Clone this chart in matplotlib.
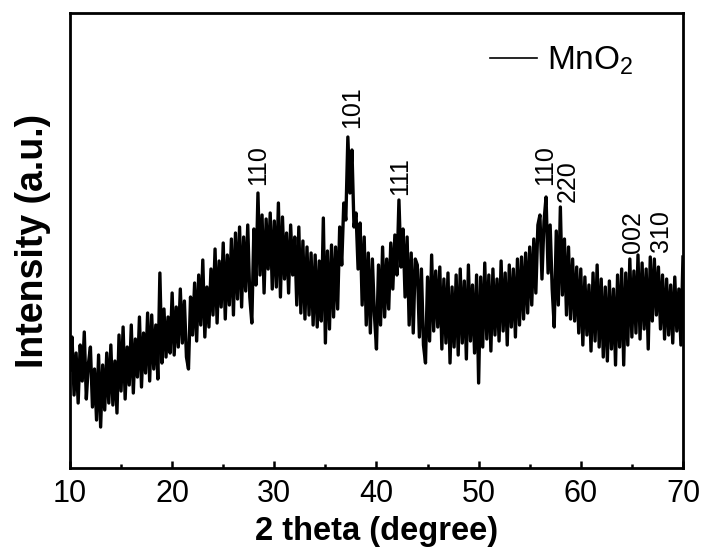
# XRD pattern of MnO2 (0.2 degree steps)

import matplotlib
matplotlib.use("Agg")
import matplotlib.pyplot as plt
import numpy as np

plt.rcParams["font.family"] = ["Liberation Sans", "DejaVu Sans"]
plt.rcParams["mathtext.fontset"] = "custom"
plt.rcParams["mathtext.rm"] = "Liberation Sans"
plt.rcParams["mathtext.it"] = "Liberation Sans:italic"

# 2 theta from 10 to 70 in 0.2 steps (301 points)
twoTheta = np.round(np.arange(10.0, 70.01, 0.2), 1)

# intensity in arbitrary units, one row = 2 degrees
intensity = [
    95, 128, 70, 112, 62, 120, 84, 133, 66, 101,      # 10
    118, 58, 96, 45, 110, 38, 100, 55, 112, 62,       # 12
    120, 60, 104, 52, 130, 74, 138, 66, 118, 80,      # 14
    140, 72, 126, 88, 148, 78, 132, 92, 152, 84,      # 16
    150, 96, 140, 86, 192, 102, 156, 108, 148, 112,   # 18
    172, 110, 158, 118, 176, 122, 164, 108, 96, 168,  # 20
    130, 182, 124, 190, 140, 205, 128, 178, 138, 196, # 22
    150, 216, 142, 204, 158, 222, 146, 210, 160, 226, # 24
    150, 232, 166, 238, 158, 228, 174, 240, 168, 142, # 26
    236, 180, 272, 190, 250, 172, 246, 196, 252, 176, # 28
    244, 178, 262, 168, 248, 186, 232, 172, 240, 190, # 30
    228, 160, 238, 152, 224, 146, 218, 150, 212, 140, # 32
    210, 138, 204, 144, 247, 122, 214, 136, 220, 148, # 34
    218, 156, 238, 200, 262, 245, 328, 272, 315, 238, # 36
    252, 196, 242, 160, 228, 140, 212, 132, 206, 150, # 38
    116, 200, 140, 218, 148, 206, 156, 222, 176, 230, # 40
    190, 265, 198, 236, 168, 228, 140, 212, 132, 206, # 42
    200, 128, 196, 120, 102, 188, 124, 210, 134, 194, # 44
    138, 198, 116, 186, 122, 192, 102, 178, 118, 190, # 46
    110, 196, 122, 184, 106, 200, 124, 180, 112, 190, # 48
    82, 188, 118, 202, 126, 190, 114, 196, 130, 186,  # 50
    124, 204, 134, 192, 120, 200, 138, 196, 128, 206, # 52
    140, 208, 146, 212, 152, 218, 160, 226, 172, 240, # 54
    250, 186, 244, 268, 192, 240, 176, 138, 234, 160, # 56
    258, 170, 226, 150, 218, 146, 206, 144, 198, 132, # 58
    196, 120, 188, 130, 180, 114, 192, 124, 200, 118, # 60
    186, 108, 178, 104, 184, 116, 176, 100, 190, 118, # 62
    196, 100, 192, 120, 206, 128, 194, 132, 210, 126, # 64
    202, 136, 196, 116, 208, 144, 206, 150, 198, 136, # 66
    190, 126, 186, 130, 180, 122, 188, 134, 176, 120, # 68
    208,                                              # 70
]

# reflection labels
peakNames = ["110", "101", "111", "110", "220", "002", "310"]
peakX = [28.4, 37.6, 42.3, 56.5, 58.7, 65.1, 67.9]
peakY = [280, 337, 270, 280, 263, 212, 213]

fig = plt.figure(figsize=(7.04, 5.51), dpi=100)
ax = fig.add_axes([0.0994, 0.1506, 0.8707, 0.8258])

ax.plot(twoTheta, intensity, color="black", linewidth=2.4, label="MnO$_2$")

for name, px, py in zip(peakNames, peakX, peakY):
    ax.text(px, py, name, rotation=90, ha="center", va="bottom", fontsize=18)

ax.set_xlim(10, 70)
ax.set_ylim(-3, 452)
ax.set_xticks(np.arange(10, 71, 10))
ax.set_xticks(np.arange(15, 70, 10), minor=True)
ax.set_yticks([])
ax.tick_params(axis="x", which="major", direction="in", length=5, width=1.8,
               labelsize=22, pad=8)
ax.tick_params(axis="x", which="minor", direction="in", length=3, width=1.8)
for s in ax.spines.values():
    s.set_linewidth(2)

ax.set_xlabel("2 theta (degree)", fontsize=23.5, fontweight="bold", labelpad=5)
ax.set_ylabel("Intensity (a.u.)", fontsize=27, fontweight="bold", labelpad=14)

leg = ax.legend(loc="upper right", frameon=False, fontsize=24, handlelength=1.4,
                handletextpad=0.3, bbox_to_anchor=(0.968, 0.997))
for ln in leg.get_lines():
    ln.set_linewidth(1.2)

plt.savefig("out.png", dpi=100)
plt.close()
